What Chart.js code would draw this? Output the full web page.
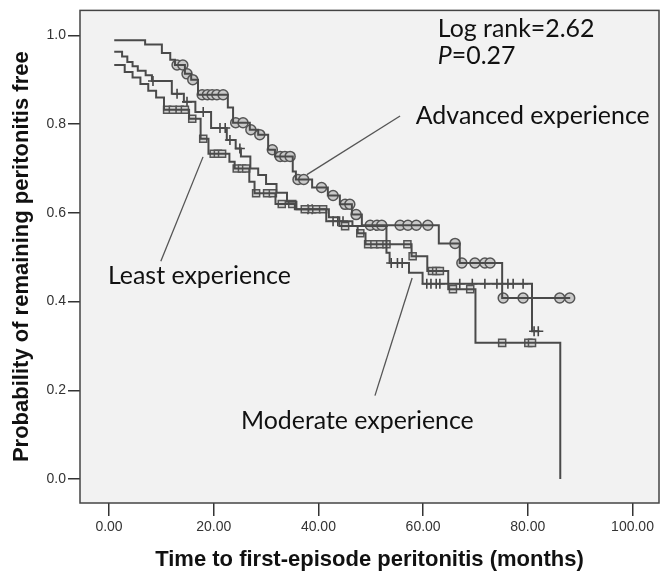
<!DOCTYPE html>
<html><head><meta charset="utf-8">
<script src="https://cdn.jsdelivr.net/npm/chart.js@4.4.1/dist/chart.umd.min.js"></script>
<style>html,body{margin:0;padding:0;background:#fff}</style>
</head><body>
<canvas id="c" width="670" height="583"></canvas>
<script>
// ---- data ----
const xTicks = [0, 20, 40, 60, 80, 100];
const yTicks = [0, 0.2, 0.4, 0.6, 0.8, 1.0];

// Advanced experience (circles)
const advTimes = [1.0, 6.9, 10.1, 11.7, 12.6, 14.5, 15.7, 17.0, 22.7, 23.7, 26.9, 28.5, 30.4, 31.7, 35.1, 35.7, 38.8, 41.8, 44.1, 46.4, 48.3, 63.0, 67.0, 75.1, 88.1];
const advSurv  = [0.989, 0.979, 0.960, 0.945, 0.933, 0.913, 0.900, 0.866, 0.837, 0.803, 0.787, 0.776, 0.742, 0.727, 0.693, 0.675, 0.657, 0.639, 0.619, 0.596, 0.572, 0.531, 0.487, 0.408, 0.408];
const advCensor = [13.0, 14.1, 14.9, 16.0, 17.8, 18.8, 19.7, 20.6, 21.8, 24.2, 25.6, 27.1, 28.8, 31.2, 32.7, 33.6, 34.6, 36.1, 37.2, 40.6, 42.8, 45.1, 46.0, 47.2, 49.9, 51.2, 52.1, 55.6, 57.1, 58.7, 60.9, 66.1, 67.4, 69.9, 71.8, 72.8, 75.3, 79.1, 86.1, 88.0];

// Moderate experience (squares)
const modTimes = [1.0, 3.0, 4.5, 6.0, 7.5, 9.0, 10.5, 15.3, 17.5, 19.0, 23.0, 24.0, 26.8, 27.8, 31.8, 35.5, 42.0, 44.0, 47.5, 49.0, 57.8, 60.8, 64.8, 70.0, 86.2];
const modSurv  = [0.933, 0.917, 0.905, 0.890, 0.875, 0.860, 0.832, 0.812, 0.767, 0.733, 0.715, 0.700, 0.670, 0.644, 0.620, 0.608, 0.590, 0.570, 0.554, 0.529, 0.502, 0.469, 0.428, 0.307, 0.0];
const modCensor = [11.1, 12.2, 13.5, 14.5, 15.9, 18.0, 20.0, 20.8, 21.6, 24.4, 25.4, 26.2, 28.1, 30.2, 31.3, 33.0, 35.0, 37.4, 38.8, 39.6, 40.9, 45.1, 48.0, 49.5, 50.7, 51.8, 53.0, 57.0, 58.0, 61.7, 62.5, 63.2, 65.7, 69.0, 75.1, 80.1, 80.8];

// Least experience (plus)
const leaTimes = [1.0, 2.5, 3.5, 4.5, 5.5, 7.0, 8.2, 12.0, 14.3, 16.5, 19.5, 22.5, 24.2, 25.2, 27.0, 28.5, 30.0, 32.0, 34.0, 35.8, 41.5, 46.5, 53.0, 53.6, 57.3, 59.9, 80.8, 82.2];
const leaSurv  = [0.963, 0.952, 0.940, 0.930, 0.920, 0.910, 0.897, 0.868, 0.850, 0.827, 0.791, 0.764, 0.745, 0.727, 0.700, 0.685, 0.665, 0.645, 0.625, 0.608, 0.581, 0.570, 0.510, 0.487, 0.465, 0.440, 0.333, 0.333];
const leaCensor = [8.4, 13.0, 14.9, 18.0, 21.2, 22.2, 23.1, 25.0, 38.0, 38.8, 42.8, 43.7, 44.7, 49.9, 51.0, 52.3, 53.9, 55.1, 56.0, 60.7, 61.5, 62.5, 63.2, 67.0, 69.4, 71.8, 74.1, 76.2, 77.2, 79.1, 81.2, 82.0];

// ---- helpers ----
function stepAt(times, surv, t) {
  let v = surv[0];
  for (let i = 0; i < times.length; i++) { if (times[i] <= t) v = surv[i]; else break; }
  return v;
}
const curve = (times, surv) => times.map((t, i) => ({x: t, y: surv[i]}));
const marks = (times, surv, cens) => cens.map(t => ({x: t, y: stepAt(times, surv, t)}));

const LINE = '#4a4a4a';
const TICKFONT = {family: "'Liberation Sans', Arial, sans-serif", size: 14};
const TITLEFONT = {family: "'Liberation Sans', Arial, sans-serif", size: 22, weight: 'bold'};

// annotation layout (data units)
const notes = {
  leaders: [
    [[37.8, 0.686], [55.6, 0.818]],
    [[17.96, 0.726], [9.9, 0.491]],
    [[57.9, 0.453], [50.8, 0.188]]
  ],
  texts: [
    {t: 'Advanced experience', x: 58.6, y: 0.80},
    {t: 'Least experience', x: -0.2, y: 0.44},
    {t: 'Moderate experience', x: 25.2, y: 0.114}
  ],
  logrank: {x: 62.8, y: 0.996},
  pval: {x: 62.8, y: 0.935}
};

const framePlugin = {
  id: 'frame',
  beforeDraw(chart) {
    const {ctx, chartArea: a} = chart;
    ctx.save();
    ctx.fillStyle = '#ffffff';
    ctx.fillRect(0, 0, chart.width, chart.height);
    ctx.fillStyle = '#f2f2f2';
    ctx.fillRect(a.left, a.top, a.right - a.left, a.bottom - a.top);
    ctx.restore();
  },
  afterDraw(chart) {
    const {ctx, chartArea: a, scales: {x, y}} = chart;
    ctx.save();
    ctx.strokeStyle = '#444';
    ctx.lineWidth = 1.5;
    ctx.strokeRect(a.left, a.top, a.right - a.left, a.bottom - a.top);
    // leader lines
    ctx.strokeStyle = '#555';
    ctx.lineWidth = 1.3;
    notes.leaders.forEach(([p, q]) => {
      ctx.beginPath();
      ctx.moveTo(x.getPixelForValue(p[0]), y.getPixelForValue(p[1]));
      ctx.lineTo(x.getPixelForValue(q[0]), y.getPixelForValue(q[1]));
      ctx.stroke();
    });
    // text, sized so "Advanced experience" is ~234px wide
    const fam = "Lato, 'Open Sans', sans-serif";
    ctx.font = `24px ${fam}`;
    const w = ctx.measureText('Advanced experience').width;
    const size = 24 * 234 / w;
    ctx.font = `${size}px ${fam}`;
    ctx.fillStyle = '#111';
    ctx.textBaseline = 'alphabetic';
    ctx.textAlign = 'left';
    notes.texts.forEach(n => ctx.fillText(n.t, x.getPixelForValue(n.x), y.getPixelForValue(n.y)));
    ctx.fillText('Log rank=2.62', x.getPixelForValue(notes.logrank.x), y.getPixelForValue(notes.logrank.y));
    const px = x.getPixelForValue(notes.pval.x), py = y.getPixelForValue(notes.pval.y);
    ctx.font = `italic ${size}px ${fam}`;
    ctx.fillText('P', px, py);
    const pw = ctx.measureText('P').width;
    ctx.font = `${size}px ${fam}`;
    ctx.fillText('=0.27', px + pw, py);
    ctx.restore();
  }
};

new Chart(document.getElementById('c'), {
  type: 'scatter',
  data: {
    datasets: [
      {label: 'Advanced experience', data: curve(advTimes, advSurv), showLine: true, stepped: 'before', borderColor: LINE, borderWidth: 2, pointRadius: 0, fill: false},
      {label: 'Moderate experience', data: curve(modTimes, modSurv), showLine: true, stepped: 'before', borderColor: LINE, borderWidth: 2, pointRadius: 0, fill: false},
      {label: 'Least experience', data: curve(leaTimes, leaSurv), showLine: true, stepped: 'before', borderColor: LINE, borderWidth: 2, pointRadius: 0, fill: false},
      {label: 'Advanced censored', data: marks(advTimes, advSurv, advCensor), showLine: false, pointStyle: 'circle', pointRadius: 5, pointBackgroundColor: '#c9c9c9', pointBorderColor: '#555', pointBorderWidth: 1.5},
      {label: 'Moderate censored', data: marks(modTimes, modSurv, modCensor), showLine: false, pointStyle: 'rect', pointRadius: 5, pointBackgroundColor: '#d2d2d2', pointBorderColor: '#555', pointBorderWidth: 1.5},
      {label: 'Least censored', data: marks(leaTimes, leaSurv, leaCensor), showLine: false, pointStyle: 'cross', pointRadius: 5, pointBorderColor: '#444', pointBorderWidth: 1.6}
    ]
  },
  options: {
    responsive: false,
    animation: false,
    devicePixelRatio: 1,
    layout: {padding: {top: 8, right: 11, left: 0, bottom: 0}},
    plugins: {legend: {display: false}, tooltip: {enabled: false}},
    scales: {
      x: {
        type: 'linear', min: -5.54, max: 105.06,
        afterBuildTicks: s => { s.ticks = xTicks.map(v => ({value: v})); },
        afterFit: s => { s.height = 80; },
        ticks: {callback: v => Number(v).toFixed(2), font: TICKFONT, color: '#333', padding: 3, maxRotation: 0, autoSkip: false},
        grid: {drawOnChartArea: false, drawTicks: true, tickLength: 13, color: '#333', lineWidth: 1.5},
        border: {display: false},
        title: {display: true, text: 'Time to first-episode peritonitis (months)', font: TITLEFONT, color: '#111', padding: {top: 0, bottom: 10}}
      },
      y: {
        type: 'linear', min: -0.0538, max: 1.056,
        afterBuildTicks: s => { s.ticks = yTicks.map(v => ({value: v})); },
        afterFit: s => { s.width = 80; },
        ticks: {callback: v => Number(v).toFixed(1), font: TICKFONT, color: '#333', padding: 2, autoSkip: false},
        grid: {drawOnChartArea: false, drawTicks: true, tickLength: 12, color: '#333', lineWidth: 1.5},
        border: {display: false},
        title: {display: true, text: 'Probability of remaining peritonitis free', font: TITLEFONT, color: '#111', padding: {top: 9, bottom: 0}}
      }
    }
  },
  plugins: [framePlugin]
});
</script>
</body></html>
